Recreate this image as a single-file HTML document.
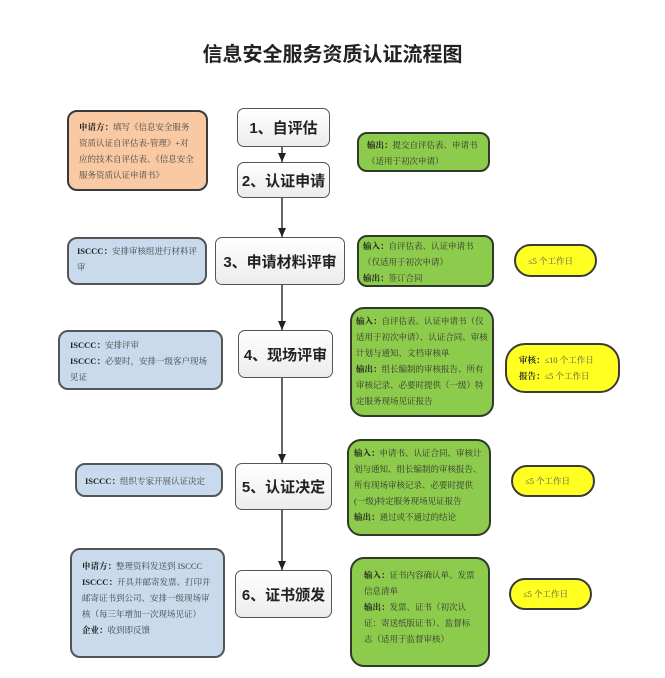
<!DOCTYPE html>
<html><head><meta charset="utf-8"><style>
body{margin:0;width:665px;height:678px;background:#fff;position:relative;overflow:hidden;font-family:"Liberation Serif","Noto Serif CJK SC","Noto Sans CJK SC",serif;}
.b{position:absolute;box-sizing:border-box;border:2px solid #3a3a3a;border-radius:10px;font-size:8.5px;line-height:16px;color:#444;padding:6px 8px;}
.o{background:#f8c9a2;}
.bl{background:#c8daec;border-color:#555;}
.g{background:#8dcb4c;border-color:#2f3a2a;color:#333;}
.y{background:#ffff22;border-radius:20px;display:flex;align-items:center;justify-content:flex-start;padding-left:12px;color:#555;}
.c{position:absolute;box-sizing:border-box;border:1.5px solid #555;border-radius:7px;background:linear-gradient(#fff,#ececec);font-family:"Liberation Sans","Noto Sans CJK SC",sans-serif;font-size:15px;font-weight:bold;color:#222;display:flex;align-items:center;justify-content:center;}
b{color:#222;}
.t{position:absolute;left:0;width:665px;top:38px;text-align:center;font-family:"Liberation Sans","Noto Sans CJK SC",sans-serif;font-weight:bold;font-size:20px;color:#222;}
</style></head><body>
<div class="t">信息安全服务资质认证流程图</div>
<svg style="position:absolute;left:0;top:0" width="665" height="678">
<defs><marker id="a" markerWidth="9" markerHeight="8" refX="9" refY="4" orient="auto" markerUnits="userSpaceOnUse"><path d="M0,0 L9,4 L0,8 z" fill="#222"/></marker></defs>
<g stroke="#333" stroke-width="1.5">
<line x1="282" y1="147" x2="282" y2="162" marker-end="url(#a)"/>
<line x1="282" y1="198" x2="282" y2="237" marker-end="url(#a)"/>
<line x1="282" y1="285" x2="282" y2="330" marker-end="url(#a)"/>
<line x1="282" y1="378" x2="282" y2="463" marker-end="url(#a)"/>
<line x1="282" y1="510" x2="282" y2="570" marker-end="url(#a)"/>
</g></svg>
<div class="b o" style="left:67px;top:110px;width:141px;height:81px;padding:7px 10px;"><b>申请方：</b>填写《信息安全服务资质认证自评估表-管理》+对应的技术自评估表、《信息安全服务资质认证申请书》</div>
<div class="b bl" style="left:67px;top:237px;width:140px;height:48px;padding:4px 8px;"><b>ISCCC：</b>安排审核组进行材料评审</div>
<div class="b bl" style="left:58px;top:330px;width:165px;height:60px;padding:5px 10px;"><b>ISCCC：</b>安排评审<br><b>ISCCC：</b>必要时，安排一级客户现场见证</div>
<div class="b bl" style="left:75px;top:463px;width:148px;height:34px;padding:7px 8px;line-height:18px;"><b>ISCCC：</b>组织专家开展认证决定</div>
<div class="b bl" style="left:70px;top:548px;width:155px;height:110px;padding:8px 10px;"><b>申请方：</b>整理资料发送到 ISCCC<br><b>ISCCC：</b>开具并邮寄发票、打印并邮寄证书到公司、安排一级现场审核（每三年增加一次现场见证）<br><b>企业：</b>收到即反馈</div>
<div class="c" style="left:237px;top:108px;width:93px;height:39px;">1、自评估</div>
<div class="c" style="left:237px;top:162px;width:93px;height:36px;">2、认证申请</div>
<div class="c" style="left:215px;top:237px;width:130px;height:48px;">3、申请材料评审</div>
<div class="c" style="left:238px;top:330px;width:95px;height:48px;">4、现场评审</div>
<div class="c" style="left:235px;top:463px;width:97px;height:47px;">5、认证决定</div>
<div class="c" style="left:235px;top:570px;width:97px;height:48px;">6、证书颁发</div>
<div class="b g" style="left:357px;top:132px;width:133px;height:40px;padding:3px 8px;"><b>输出：</b>提交自评估表、申请书（适用于初次申请）</div>
<div class="b g" style="left:357px;top:235px;width:137px;height:52px;padding:1px 4px;"><b>输入：</b>自评估表、认证申请书（仅适用于初次申请）<br><b>输出：</b>签订合同</div>
<div class="b g" style="left:350px;top:307px;width:144px;height:110px;padding:4px 4px;border-radius:14px;"><b>输入：</b>自评估表、认证申请书（仅适用于初次申请）、认证合同、审核计划与通知、文档审核单<br><b>输出：</b>组长编制的审核报告、所有审核记录、必要时提供（一级）特定服务现场见证报告</div>
<div class="b g" style="left:347px;top:439px;width:144px;height:97px;padding:4px 5px;border-radius:14px;"><b>输入：</b>申请书、认证合同、审核计划与通知、组长编制的审核报告、所有现场审核记录、必要时提供(一级)特定服务现场见证报告<br><b>输出：</b>通过或不通过的结论</div>
<div class="b g" style="left:350px;top:557px;width:140px;height:110px;padding:8px 12px;border-radius:14px;"><b>输入：</b>证书内容确认单、发票信息清单<br><b>输出：</b>发票、证书（初次认证：寄送纸版证书）、监督标志（适用于监督审核）</div>
<div class="b y" style="left:514px;top:244px;width:83px;height:33px;">≤5 个工作日</div>
<div class="b y" style="left:505px;top:343px;width:115px;height:50px;display:block;padding:7px 0 0 12px;"><b>审核：</b>≤10 个工作日<br><b>报告：</b>≤5 个工作日</div>
<div class="b y" style="left:511px;top:465px;width:84px;height:32px;">≤5 个工作日</div>
<div class="b y" style="left:509px;top:578px;width:83px;height:32px;">≤5 个工作日</div>
</body></html>
